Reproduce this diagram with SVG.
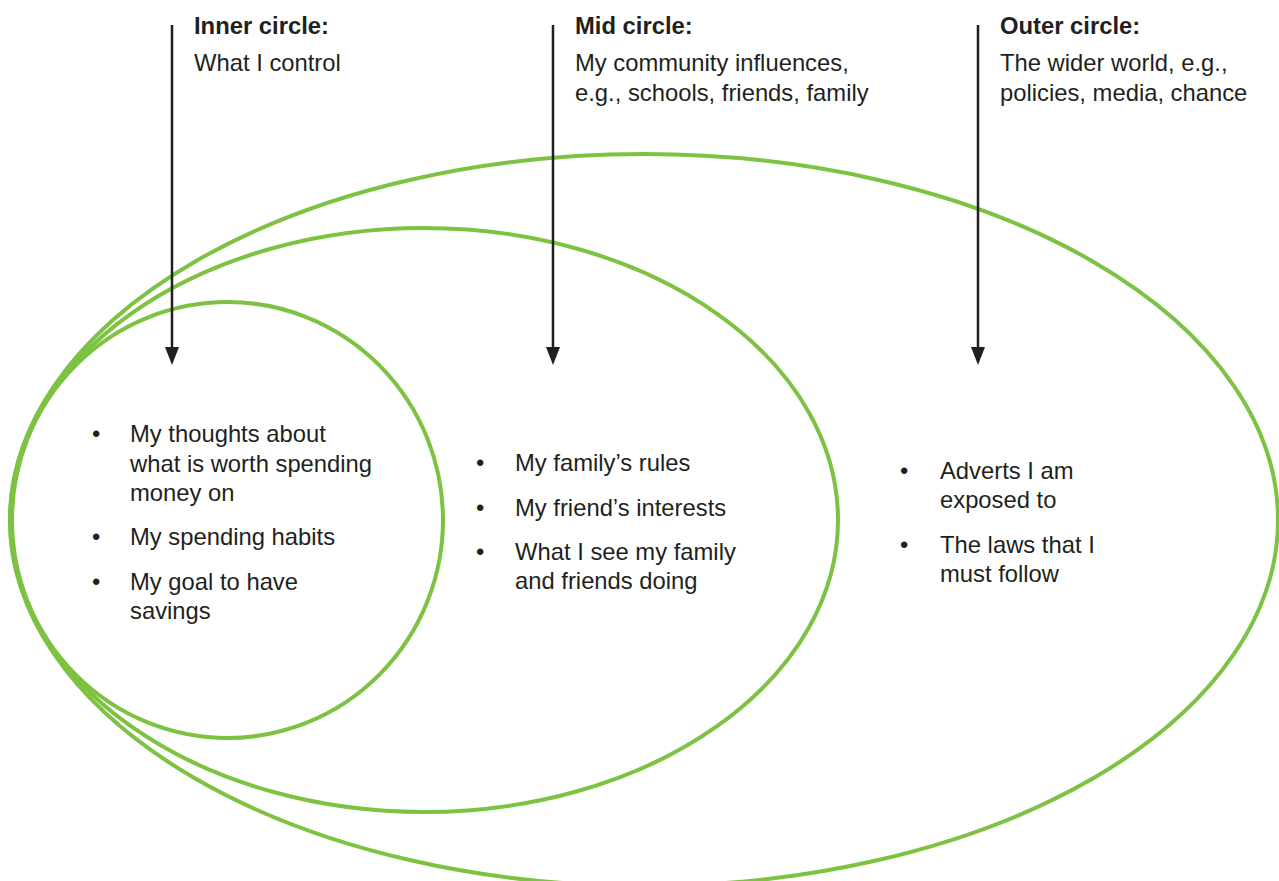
<svg xmlns="http://www.w3.org/2000/svg" width="1279" height="881" viewBox="0 0 1279 881">
<style>
.ring{fill:none;stroke:#7dc242;stroke-width:4}
.t{font-family:"Liberation Sans",Arial,sans-serif;font-size:23.8px;fill:#231f20}
.b{font-weight:bold}
.arr{stroke:#231f20;stroke-width:2.5;fill:none}
.ah{fill:#231f20}
</style>
<rect width="1279" height="881" fill="#fff"/>
<g id="outer"><ellipse class="ring" cx="644" cy="520" rx="634" ry="366"/></g>
<g id="mid"><ellipse class="ring" cx="424" cy="520" rx="414" ry="292"/></g>
<g id="inner"><ellipse class="ring" cx="227.5" cy="520" rx="215.5" ry="218"/></g>
<g id="connectors">
<line class="arr" x1="172" y1="25" x2="172" y2="347"/>
<path class="ah" d="M165,347 L179,347 L172,365 Z"/>
<line class="arr" x1="553" y1="25" x2="553" y2="347"/>
<path class="ah" d="M546,347 L560,347 L553,365 Z"/>
<line class="arr" x1="978" y1="25" x2="978" y2="347"/>
<path class="ah" d="M971,347 L985,347 L978,365 Z"/>
</g>
<g id="label-inner">
<text class="t b" x="194" y="34">Inner circle:</text>
<text class="t" x="194" y="71">What I control</text>
</g>
<g id="label-mid">
<text class="t b" x="575" y="34">Mid circle:</text>
<text class="t" x="575" y="71">My community influences,</text>
<text class="t" x="575" y="101">e.g., schools, friends, family</text>
</g>
<g id="label-outer">
<text class="t b" x="1000" y="34">Outer circle:</text>
<text class="t" x="1000" y="71">The wider world, e.g.,</text>
<text class="t" x="1000" y="101">policies, media, chance</text>
</g>
<g id="list-inner">
<text class="t" x="92" y="442">•</text>
<text class="t" x="130" y="442">My thoughts about</text>
<text class="t" x="130" y="472">what is worth spending</text>
<text class="t" x="130" y="501">money on</text>
<text class="t" x="92" y="545">•</text>
<text class="t" x="130" y="545">My spending habits</text>
<text class="t" x="92" y="590">•</text>
<text class="t" x="130" y="590">My goal to have</text>
<text class="t" x="130" y="619">savings</text>
</g>
<g id="list-mid">
<text class="t" x="476" y="471">•</text>
<text class="t" x="515" y="471">My family’s rules</text>
<text class="t" x="476" y="516">•</text>
<text class="t" x="515" y="516">My friend’s interests</text>
<text class="t" x="476" y="560">•</text>
<text class="t" x="515" y="560">What I see my family</text>
<text class="t" x="515" y="589">and friends doing</text>
</g>
<g id="list-outer">
<text class="t" x="900" y="479">•</text>
<text class="t" x="940" y="479">Adverts I am</text>
<text class="t" x="940" y="508">exposed to</text>
<text class="t" x="900" y="553">•</text>
<text class="t" x="940" y="553">The laws that I</text>
<text class="t" x="940" y="582">must follow</text>
</g>
</svg>
